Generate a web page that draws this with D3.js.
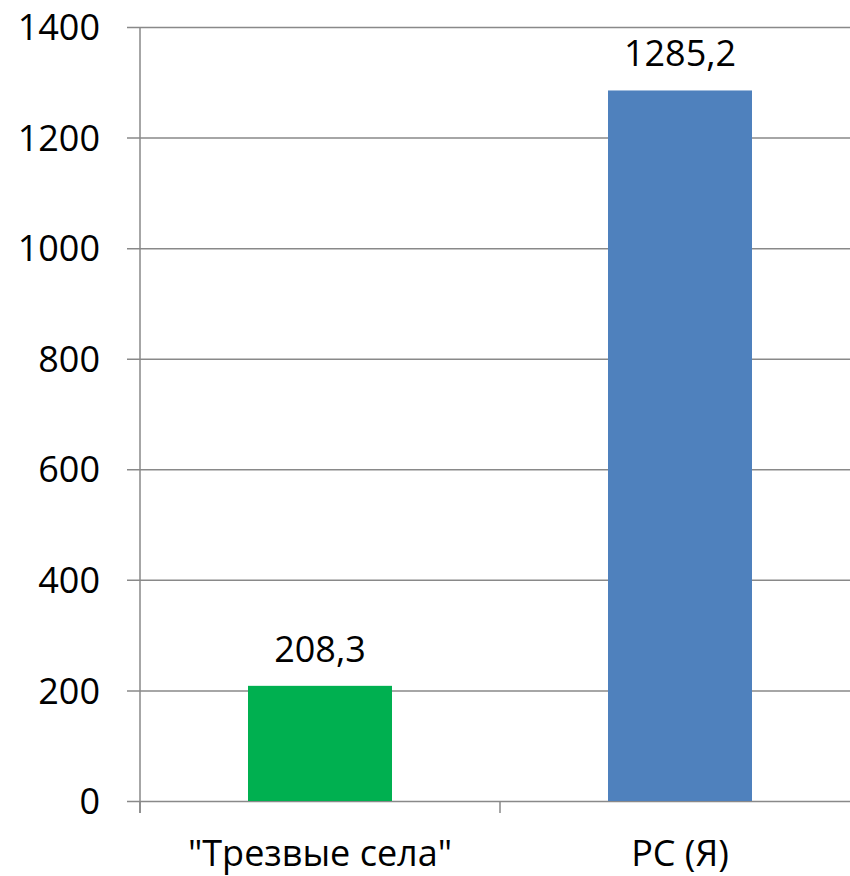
<!DOCTYPE html>
<html>
<head>
<meta charset="utf-8">
<script src="https://cdn.jsdelivr.net/npm/d3@7"></script>
<style>
  body { margin: 0; background: #fff; }
  text { font-family: "Open Sans", "Noto Sans", sans-serif; fill: #000; }
</style>
</head>
<body>
<svg width="850" height="876"></svg>
<script>
// chart data
var categories = ["\"Трезвые села\"", "РС (Я)"];
var values = [208.3, 1285.2];
var barColors = ["#00b050", "#4f81bd"];
var yTicks = [0, 200, 400, 600, 800, 1000, 1200, 1400];

var svg = d3.select("svg");
// plot area edges (note: "top" is reserved on window, so use pl/pr/pt/pb)
var pl = 140, pr = 860, pt = 27, pb = 801;
var fontSize = 36;

var x = d3.scaleBand()
    .domain(categories)
    .range([pl, pr])
    .paddingInner(0.6)
    .paddingOuter(0.3);

var y = d3.scaleLinear()
    .domain([0, 1400])
    .range([pb, pt]);

// gridlines + y labels
var yAxis = d3.axisLeft(y)
    .tickValues(yTicks)
    .tickSize(-(pr - pl))
    .tickSizeOuter(0)
    .tickPadding(0)
    .tickFormat(d3.format("d"));

var gy = svg.append("g")
    .attr("transform", "translate(" + pl + ",0)")
    .call(yAxis);
gy.select(".domain").remove();
gy.selectAll(".tick line")
    .attr("x1", -13)
    .attr("stroke", "#898989")
    .attr("stroke-width", 1.5);
gy.selectAll(".tick text")
    .attr("x", -40)
    .attr("dy", "0.35em")
    .style("font-size", fontSize + "px")
    .style("font-family", "'Open Sans', sans-serif")
    .attr("fill", "#000");

// vertical axis line
svg.append("line")
    .attr("x1", pl).attr("x2", pl)
    .attr("y1", pt).attr("y2", pb + 12)
    .attr("stroke", "#898989")
    .attr("stroke-width", 1.5);

// category ticks on x axis
var bandEdges = [pl, pl + (pr - pl) / 2, pr];
svg.selectAll(".xtick")
    .data(bandEdges)
    .enter().append("line")
    .attr("x1", function(d) { return d; })
    .attr("x2", function(d) { return d; })
    .attr("y1", pb)
    .attr("y2", pb + 12)
    .attr("stroke", "#898989")
    .attr("stroke-width", 1.5);

// bars
svg.selectAll(".bar")
    .data(values)
    .enter().append("rect")
    .attr("x", function(d, i) { return x(categories[i]); })
    .attr("width", x.bandwidth())
    .attr("y", function(d) { return y(d); })
    .attr("height", function(d) { return pb - y(d); })
    .attr("fill", function(d, i) { return barColors[i]; });

// value labels
svg.selectAll(".val")
    .data(values)
    .enter().append("text")
    .attr("x", function(d, i) { return x(categories[i]) + x.bandwidth() / 2; })
    .attr("y", function(d) { return y(d) - 24; })
    .attr("text-anchor", "middle")
    .style("font-size", fontSize + "px")
    .text(function(d) { return String(d).replace(".", ","); });

// category labels
svg.selectAll(".cat")
    .data(categories)
    .enter().append("text")
    .attr("x", function(d) { return x(d) + x.bandwidth() / 2; })
    .attr("y", 866)
    .attr("text-anchor", "middle")
    .style("font-size", fontSize + "px")
    .text(function(d) { return d; });
</script>
</body>
</html>
